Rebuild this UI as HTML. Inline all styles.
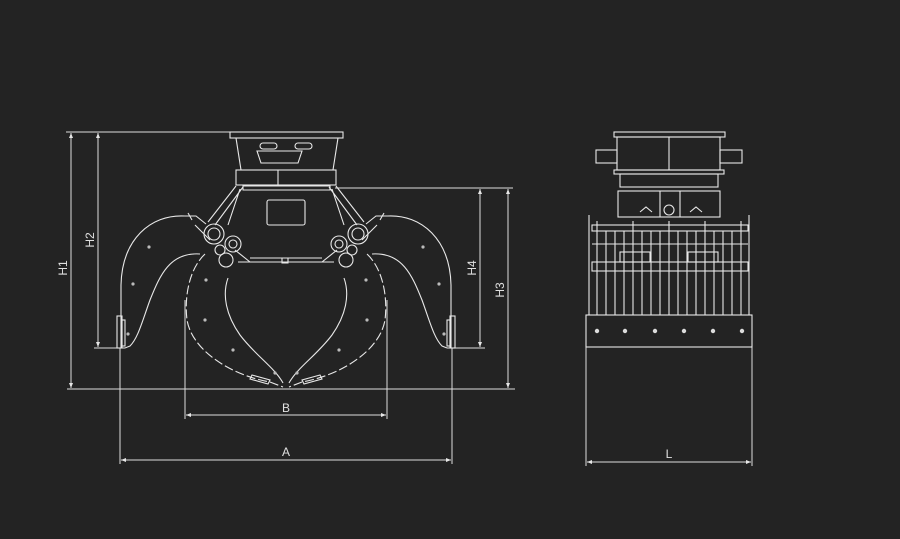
<!DOCTYPE html>
<html><head><style>
html,body{margin:0;padding:0;background:#232323;}
svg{display:block}
text{font-family:"Liberation Sans",sans-serif;fill:#e0e0e0;font-size:12px}
</style></head><body>
<svg width="900" height="539" viewBox="0 0 900 539" xmlns="http://www.w3.org/2000/svg">
<defs>
<marker id="ar" viewBox="0 0 10 10" refX="10" refY="5" markerWidth="8" markerHeight="5" orient="auto-start-reverse"><path d="M0,1 L10,5 L0,9z" fill="#e6e6e6"/></marker>
<g id="half" fill="none" stroke="#e8e8e8" stroke-width="1.1">
 <path d="M185,216 C150,214 122,240 121,285 L121,316"/>
 <path d="M185,216 L196,216 L206,224"/>
 <path d="M188,213 L192,220"/>
 <path d="M200,254 C170,252 160,275 150,300 C142,322 138,338 130,346 L125,348"/>
 <path d="M125,348 L121,348 L121,316"/>
 <rect x="117" y="316" width="5" height="32"/>
 <rect x="122" y="320" width="3" height="26"/>
 <circle cx="149" cy="247" r="1.6" fill="#bbb" stroke="none"/>
 <circle cx="133" cy="284" r="1.6" fill="#bbb" stroke="none"/>
 <circle cx="128" cy="334" r="1.6" fill="#bbb" stroke="none"/>
 <path d="M205,254 C190,268 184,295 187,320 C192,350 230,375 270,382 L283,387" stroke-dasharray="9,3"/>
 <path d="M228,278 C222,295 226,315 240,335 C255,355 275,368 283,383"/>
 <path d="M252,375 L270,380 L268,384 L250,379z"/>
 <circle cx="206" cy="280" r="1.6" fill="#bbb" stroke="none"/>
 <circle cx="205" cy="320" r="1.6" fill="#bbb" stroke="none"/>
 <circle cx="233" cy="350" r="1.6" fill="#bbb" stroke="none"/>
 <circle cx="275" cy="373" r="1.6" fill="#bbb" stroke="none"/>
 <path d="M243,187 L215,225 M240,189 L228,225 M236,186 L208,222"/>
 <path d="M238,262 L250,262 L286,262 M250,258 L286,258"/>
 <path d="M235,250 L250,262"/>
 <circle cx="214" cy="234" r="10"/><circle cx="214" cy="234" r="6"/>
 <circle cx="233" cy="244" r="8"/><circle cx="233" cy="244" r="4"/>
 <circle cx="226" cy="260" r="7"/><circle cx="220" cy="250" r="5"/>
 <path d="M195,225 L210,240"/>
</g>
</defs>
<g stroke="#dcdcdc" stroke-width="1" fill="none">
 <path d="M66,132 L235,132 M67,389 L515,389 M335,188 L513,188 M94,348 L120,348 M455,348 L485,348"/>
 <path d="M120,348 L120,464 M452,348 L452,464 M185,300 L185,419 M387,300 L387,419 M586,347 L586,466 M752,347 L752,466"/>
 <path d="M71,133 L71,388" marker-start="url(#ar)" marker-end="url(#ar)"/>
 <path d="M98,133 L98,347" marker-start="url(#ar)" marker-end="url(#ar)"/>
 <path d="M480,189 L480,347" marker-start="url(#ar)" marker-end="url(#ar)"/>
 <path d="M508,189 L508,388" marker-start="url(#ar)" marker-end="url(#ar)"/>
 <path d="M121,460 L451,460" marker-start="url(#ar)" marker-end="url(#ar)"/>
 <path d="M186,415 L386,415" marker-start="url(#ar)" marker-end="url(#ar)"/>
 <path d="M587,462 L751,462" marker-start="url(#ar)" marker-end="url(#ar)"/>
</g>
<text x="286" y="456" text-anchor="middle">A</text>
<text x="286" y="412" text-anchor="middle">B</text>
<text x="669" y="458" text-anchor="middle">L</text>
<text transform="translate(67,268) rotate(-90)" text-anchor="middle">H1</text>
<text transform="translate(94,240) rotate(-90)" text-anchor="middle">H2</text>
<text transform="translate(476,268) rotate(-90)" text-anchor="middle">H4</text>
<text transform="translate(504,290) rotate(-90)" text-anchor="middle">H3</text>
<use href="#half"/>
<use href="#half" transform="translate(572,0) scale(-1,1)"/>
<g fill="none" stroke="#e8e8e8" stroke-width="1.1">
 <rect x="230" y="132" width="113" height="6"/>
 <path d="M236,138 L241,170 L333,170 L338,138"/>
 <path d="M257,151 h45 l-4,12 h-37z"/>
 <rect x="260" y="143" width="17" height="6" rx="3"/>
 <rect x="295" y="143" width="17" height="6" rx="3"/>
 <rect x="236" y="170" width="100" height="15"/>
 <path d="M278,170 V185"/>
 <path d="M243,186 H330 V190 H243z"/>
 <rect x="267" y="200" width="38" height="25" rx="2"/>
 <path d="M282,258 v5 h6 v-5"/>
</g>
<g fill="none" stroke="#e8e8e8" stroke-width="1.1">
 <rect x="614" y="132" width="111" height="5"/>
 <rect x="617" y="137" width="103" height="33"/>
 <path d="M669,137 V170"/>
 <rect x="596" y="150" width="21" height="13"/>
 <rect x="720" y="150" width="22" height="13"/>
 <rect x="614" y="170" width="110" height="4"/>
 <rect x="620" y="174" width="98" height="13"/>
 <rect x="618" y="191" width="102" height="26"/>
 <path d="M660,191 V217 M680,191 V217"/>
 <circle cx="669" cy="210" r="5"/>
 <path d="M640,212 l6,-5 l6,5 M690,212 l6,-5 l6,5"/>
 <path d="M589,215 V315 M749,215 V315"/>
 <rect x="592" y="225" width="156" height="6"/>
 <rect x="592" y="262" width="156" height="9"/>
 <path d="M597,221 V315 M606,231 V315 M615,231 V315 M624,231 V315 M633,221 V315 M642,231 V315 M651,231 V315 M660,231 V315 M669,221 V315 M678,231 V315 M687,231 V315 M696,231 V315 M705,221 V315 M714,231 V315 M723,231 V315 M732,231 V315 M741,221 V315"/>
 <path d="M592,244 H748"/>
 <rect x="620" y="252" width="30" height="10"/><rect x="688" y="252" width="30" height="10"/>
 <rect x="586" y="315" width="166" height="32"/>
</g>
<g fill="#ddd">
 <circle cx="597" cy="331" r="2.2"/><circle cx="625" cy="331" r="2.2"/><circle cx="655" cy="331" r="2.2"/>
 <circle cx="684" cy="331" r="2.2"/><circle cx="713" cy="331" r="2.2"/><circle cx="742" cy="331" r="2.2"/>
</g>
</svg>
</body></html>
